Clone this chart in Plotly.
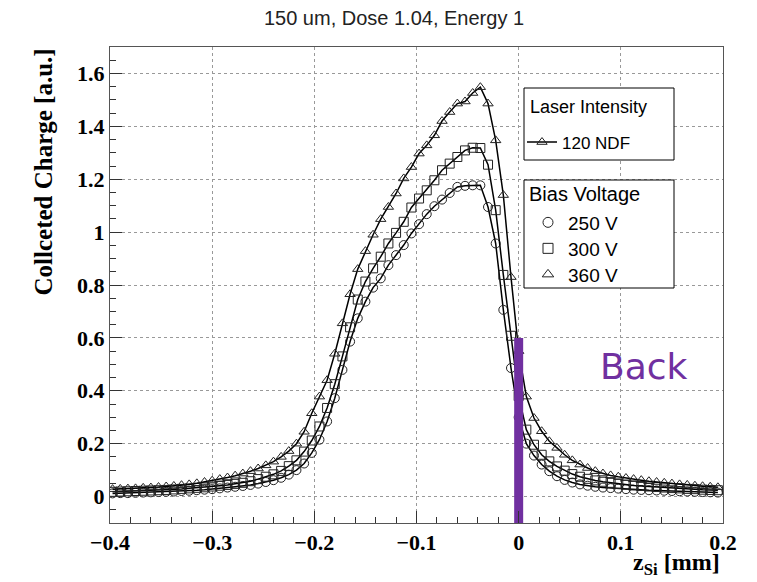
import plotly.graph_objects as go

# ---------------- data ----------------
z_si_mm = [
    -0.3975, -0.39, -0.3825, -0.375, -0.3675, -0.36, -0.3525, -0.345, -0.3375, -0.33,
    -0.3225, -0.315, -0.3075, -0.30,
    -0.2925, -0.285, -0.2775, -0.27,
    -0.2625, -0.255, -0.2475, -0.24,
    -0.2325, -0.225, -0.2175, -0.21,
    -0.2025, -0.195, -0.1875, -0.18,
    -0.1725, -0.165, -0.1575, -0.15,
    -0.1425, -0.135, -0.1275, -0.12,
    -0.1125, -0.105, -0.0975, -0.09,
    -0.0825, -0.075, -0.0675, -0.06,
    -0.0525, -0.045, -0.0375, -0.03,
    -0.0225, -0.015, -0.0075, 0.0,
    0.0075, 0.015, 0.0225, 0.03,
    0.0375, 0.045, 0.0525, 0.06,
    0.0675, 0.075, 0.0825, 0.09,
    0.0975, 0.105, 0.1125, 0.12,
    0.1275, 0.135, 0.1425, 0.15,
    0.1575, 0.165, 0.1725, 0.18,
    0.1875, 0.195,
]

charge_250V = [
    0.012, 0.013, 0.013, 0.014, 0.015, 0.016, 0.017, 0.018, 0.019, 0.021,
    0.022, 0.024, 0.026, 0.028,
    0.031, 0.034, 0.037, 0.040,
    0.044, 0.049, 0.055, 0.062,
    0.071, 0.083, 0.100, 0.125,
    0.165, 0.215, 0.284, 0.372,
    0.479, 0.586, 0.674, 0.737,
    0.790, 0.825, 0.875, 0.913,
    0.951, 0.995, 1.030, 1.068,
    1.098, 1.123, 1.148, 1.171,
    1.175, 1.177, 1.177, 1.095,
    0.957, 0.706, 0.486, 0.300,
    0.200, 0.155, 0.121, 0.096,
    0.077, 0.063, 0.053, 0.046,
    0.041, 0.037, 0.034, 0.032,
    0.030, 0.028, 0.026, 0.025,
    0.024, 0.023, 0.022, 0.021,
    0.020, 0.019, 0.018, 0.017,
    0.016, 0.015,
]

charge_300V = [
    0.018, 0.019, 0.020, 0.021, 0.022, 0.023, 0.024, 0.025, 0.027, 0.029,
    0.031, 0.033, 0.035, 0.038,
    0.041, 0.044, 0.048, 0.052,
    0.058, 0.066, 0.075, 0.084,
    0.097, 0.115, 0.137, 0.170,
    0.212, 0.265, 0.335, 0.425,
    0.530, 0.640, 0.745, 0.813,
    0.863, 0.907, 0.957, 0.997,
    1.039, 1.093, 1.127, 1.158,
    1.196, 1.234, 1.259, 1.284,
    1.309, 1.319, 1.318, 1.255,
    1.083, 0.838, 0.608, 0.380,
    0.253, 0.196, 0.158, 0.133,
    0.114, 0.098, 0.085, 0.075,
    0.067, 0.061, 0.056, 0.052,
    0.048, 0.045, 0.042, 0.040,
    0.038, 0.036, 0.034, 0.032,
    0.031, 0.029, 0.028, 0.026,
    0.025, 0.024,
]

charge_360V = [
    0.028, 0.029, 0.030, 0.031, 0.033, 0.034, 0.036, 0.038, 0.040, 0.043,
    0.046, 0.050, 0.055, 0.060,
    0.066, 0.072, 0.079, 0.087,
    0.096, 0.106, 0.118, 0.132,
    0.150, 0.172, 0.200, 0.245,
    0.315, 0.378, 0.440, 0.540,
    0.655, 0.765, 0.860, 0.928,
    0.990, 1.049, 1.095, 1.146,
    1.203, 1.246, 1.297, 1.328,
    1.366, 1.420, 1.454, 1.486,
    1.494, 1.526, 1.548, 1.486,
    1.347, 1.140, 0.830, 0.550,
    0.378, 0.297, 0.247, 0.209,
    0.184, 0.158, 0.137, 0.121,
    0.108, 0.096, 0.087, 0.080,
    0.075, 0.070, 0.066, 0.062,
    0.058, 0.055, 0.052, 0.049,
    0.046, 0.044, 0.041, 0.039,
    0.037, 0.035,
]

bias_labels = ["250 V", "300 V", "360 V"]
laser_label = "120 NDF"
back_x = 0.0
back_y = [-0.1, 0.6]
back_text_pos = (0.123, 0.49)

x_range = [-0.4, 0.2]
y_range = [-0.1, 1.7]

# ---------------- figure ----------------
SERIF = "Liberation Serif"
SANS = "Liberation Sans"
PURPLE = "#7030A0"

symbols = ["circle-open", "square-open", "triangle-up-open"]
series = [charge_250V, charge_300V, charge_360V]

fig = go.Figure()

for ys, sym in zip(series, symbols):
    fig.add_trace(go.Scatter(
        x=z_si_mm, y=ys, mode="lines+markers",
        line=dict(color="black", width=1.5),
        marker=dict(symbol=sym, size=9, color="#222", line=dict(width=1)),
        showlegend=False,
    ))

# purple "back" marker bar
fig.add_trace(go.Scatter(
    x=[back_x, back_x], y=back_y, mode="lines",
    line=dict(color=PURPLE, width=9), showlegend=False,
))

# The page body has an 8px margin; the figure is shrunk so that the
# plot frame lands where it is in the reference image.
OFF = 8
W, H = 757 - OFF, 582 - OFF
L, R, T, B = 110 - OFF, 34, 47 - OFF, 59
pw, ph = W - L - R, H - T - B


def px2x(px):          # image pixel -> paper x
    return (px - OFF - L) / pw


def py2y(py):          # image pixel -> paper y
    return (H - B - (py - OFF)) / ph


# legend 1 (laser intensity)
fig.add_trace(go.Scatter(
    x=[None], y=[None], mode="lines+markers", name=laser_label,
    line=dict(color="black", width=1.5),
    marker=dict(symbol="triangle-up-open", size=9, color="#222", line=dict(width=1)),
    legend="legend",
))
# bias voltage entries, one small legend each so the row spacing matches
bias_legend_names = ["legend2", "legend3", "legend4"]
bias_rows_px = [222, 248, 274]
for lab, sym, lg in zip(bias_labels, symbols, bias_legend_names):
    fig.add_trace(go.Scatter(
        x=[None], y=[None], mode="markers", name=lab,
        marker=dict(symbol=sym, size=10, color="#222", line=dict(width=1)),
        legend=lg,
    ))

legend_font_bias = dict(family=SANS, size=19, color="black")
bias_legends = {
    lg: dict(x=px2x(528), y=py2y(row - 18.5), xanchor="left", yanchor="top",
             bgcolor="rgba(0,0,0,0)", borderwidth=0, font=legend_font_bias)
    for lg, row in zip(bias_legend_names, bias_rows_px)
}

axis_common = dict(
    showline=True, linecolor="#555", linewidth=1, mirror=True,
    ticks="inside", tickcolor="#333", ticklen=12, tickwidth=1,
    showgrid=True, gridcolor="#999", griddash="dot", gridwidth=1,
    zeroline=False,
    tickfont=dict(family=SERIF, size=22, color="black", weight="bold"),
)

fig.update_layout(
    width=W, height=H,
    margin=dict(l=L, r=R, t=T, b=B),
    paper_bgcolor="white", plot_bgcolor="white",
    xaxis=dict(range=x_range, dtick=0.1, tick0=0,
               minor=dict(dtick=0.02, ticks="inside", ticklen=6, tickcolor="#333", showgrid=False),
               **axis_common),
    yaxis=dict(range=y_range, dtick=0.2, tick0=0,
               minor=dict(dtick=0.05, ticks="inside", ticklen=6, tickcolor="#333", showgrid=False),
               **axis_common),
    title=dict(text="150 um, Dose 1.04, Energy 1", x=px2x(394), xref="paper",
               xanchor="center", y=1 - (18 - OFF) / H, yref="container", yanchor="middle",
               font=dict(family=SANS, size=20, color="#222")),
    legend=dict(x=px2x(522), y=py2y(143 - 18.5), xanchor="left", yanchor="top",
                bgcolor="rgba(0,0,0,0)", borderwidth=0,
                font=dict(family=SANS, size=17, color="black")),
    **bias_legends,
    shapes=[
        dict(type="rect", xref="paper", yref="paper", layer="above",
             x0=px2x(524), x1=px2x(674), y0=py2y(160), y1=py2y(88),
             fillcolor="white", line=dict(color="black", width=1)),
        dict(type="rect", xref="paper", yref="paper", layer="above",
             x0=px2x(524), x1=px2x(674), y0=py2y(288), y1=py2y(180),
             fillcolor="white", line=dict(color="black", width=1)),
    ],
    annotations=[
        dict(text="Laser Intensity", xref="paper", yref="paper",
             x=px2x(528), y=py2y(107), xanchor="left", yanchor="middle", showarrow=False,
             font=dict(family=SANS, size=18, color="black")),
        dict(text="Bias Voltage", xref="paper", yref="paper",
             x=px2x(527), y=py2y(194), xanchor="left", yanchor="middle", showarrow=False,
             font=dict(family=SANS, size=20, color="black")),
        dict(text="Collceted Charge [a.u.]", textangle=-90, xref="paper", yref="paper",
             x=px2x(43), y=py2y(47), xanchor="center", yanchor="top", showarrow=False,
             font=dict(family=SERIF, size=25, color="black", weight="bold")),
        dict(text="z<sub>Si</sub> [mm]", xref="paper", yref="paper",
             x=px2x(722), y=py2y(564), xanchor="right", yanchor="middle", showarrow=False,
             font=dict(family=SERIF, size=24, color="black", weight="bold")),
        dict(text="Back", xref="x", yref="y", x=back_text_pos[0], y=back_text_pos[1],
             xanchor="center", yanchor="middle", showarrow=False,
             font=dict(family="DejaVu Sans", size=36, color=PURPLE)),
    ],
)

fig.write_html("out.html")
